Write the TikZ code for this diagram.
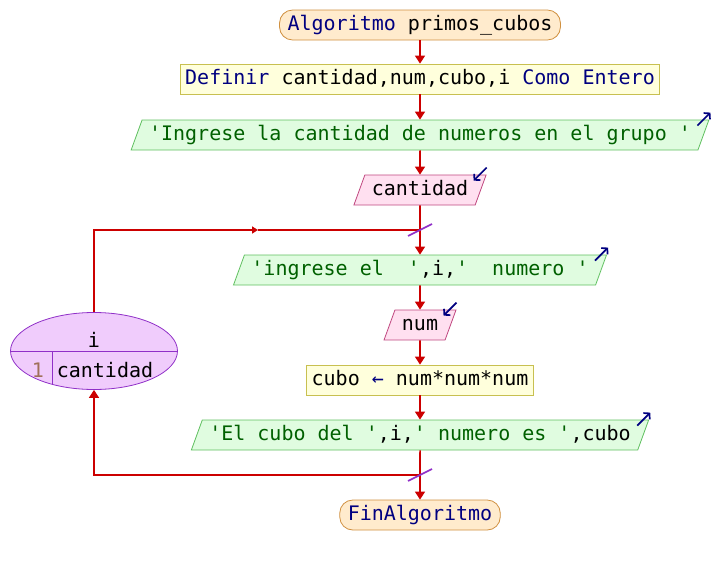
\documentclass[tikz,border=0pt]{standalone}
\usepackage{fontspec}
\setmonofont{DejaVu Sans Mono}
\usepackage{tikz}
\usetikzlibrary{arrows.meta, shapes.geometric, calc}

\definecolor{flowred}{HTML}{CC0000}
\definecolor{kwblue}{HTML}{000080}
\definecolor{strgreen}{HTML}{006000}
\definecolor{numbrown}{HTML}{A0705A}
\definecolor{loopedge}{HTML}{9030C8}
\definecolor{loopfill}{HTML}{F0CCFC}
\definecolor{termedge}{HTML}{D09040}
\definecolor{termfill}{HTML}{FFEBCD}
\definecolor{procedge}{HTML}{C8C050}
\definecolor{procfill}{HTML}{FFFFDC}
\definecolor{outedge}{HTML}{60C060}
\definecolor{outfill}{HTML}{E0FCE0}
\definecolor{inedge}{HTML}{C04880}
\definecolor{infill}{HTML}{FFE0F0}

\newcommand{\kwd}[1]{\textcolor{kwblue}{#1}}
\newcommand{\strg}[1]{\textcolor{strgreen}{#1}}

\tikzset{
	terminal/.style={draw=termedge, fill=termfill, line width=0.8pt, rounded corners=13pt, minimum height=30pt, inner xsep=8pt, inner ysep=2pt, text height=15pt, text depth=5pt},
	procbox/.style={draw=procedge, fill=procfill, line width=0.8pt, minimum height=30pt, inner xsep=5pt, inner ysep=2pt, text height=15pt, text depth=5pt},
	iobox/.style={trapezium, trapezium left angle=70, trapezium right angle=110, line width=0.8pt, inner xsep=7pt, inner ysep=5pt, text height=15pt, text depth=5pt},
	outbox/.style={iobox, draw=outedge, fill=outfill},
	inbox/.style={iobox, draw=inedge, fill=infill},
	flowline/.style={draw=flowred, line width=1.6pt},
	flow/.style={flowline, -{Triangle[length=8pt,width=10pt]}},
	loopflow/.style={flowline, -{Triangle[length=6pt,width=7pt]}},
	iomark/.style={draw=kwblue, line width=1.7pt, -{Straight Barb[length=4pt,width=9pt]}},
	joinmark/.style={draw=loopedge, line width=1.6pt},
}

\begin{document}
\begin{tikzpicture}[x=1pt, y=-1pt, font=\fontsize{20}{24}\selectfont\ttfamily]
	\useasboundingbox (0,0) rectangle (712,565);

	% main column
	\node[terminal] (start) at (420,25) {\kwd{Algoritmo} primos\_cubos};
	\node[procbox] (define) at (420,79) {\kwd{Definir} cantidad,num,cubo,i \kwd{Como Entero}};
	\node[outbox] (askcount) at (420,135) {\strg{'Ingrese la cantidad de numeros en el grupo '}};
	\node[inbox] (readcount) at (420,190) {cantidad};
	\coordinate (j1) at (420,230);
	\node[outbox] (asknum) at (420,270) {\strg{'ingrese el~~'},i,\strg{'~~numero '}};
	\node[inbox] (readnum) at (420,325) {num};
	\node[procbox] (cube) at (420,380) {cubo \kwd{←} num*num*num};
	\node[outbox] (showcube) at (420,435) {\strg{'El cubo del '},i,\strg{' numero es '},cubo};
	\coordinate (j2) at (420,475);
	\node[terminal] (finish) at (420,515) {\kwd{FinAlgoritmo}};

	% for loop
	\node[ellipse, draw=loopedge, fill=loopfill, line width=0.8pt, minimum width=167pt, minimum height=77pt] (loopfor) at (94,351) {};
	\draw[loopedge, line width=0.8pt] (loopfor.west) -- (loopfor.east);
	\draw[loopedge, line width=0.8pt] (52,351) -- (52,385);
	\node[anchor=base] (loopvar) at (94,347) {i};
	\node[anchor=base, text=numbrown] (loopstep) at (38,377) {1};
	\node[anchor=base] (loopend) at (105,377) {cantidad};

	\draw[flow] (start) -- (define);
	\draw[flow] (define) -- (askcount);
	\draw[flow] (askcount) -- (readcount);
	\draw[flow] (readcount) -- (asknum);
	\draw[flow] (asknum) -- (readnum);
	\draw[flow] (readnum) -- (cube);
	\draw[flow] (cube) -- (showcube);
	\draw[flow] (showcube) -- (finish);

	\coordinate (loopmark) at (258,230);
	\draw[loopflow] (loopfor.north) |- (loopmark);
	\draw[flowline] (loopmark) -- (j1);
	\draw[flow] (j2) -| (loopfor.south);

	\draw[joinmark] ($(j1)+(-12,6)$) -- ($(j1)+(12,-6)$);
	\draw[joinmark] ($(j2)+(-12,6)$) -- ($(j2)+(12,-6)$);

	% input / output marks
	\foreach \io in {askcount, asknum, showcube}
		\draw[iomark] ($(\io.top right corner)+(-12,6)$) -- ++(13,-13);
	\foreach \io in {readcount, readnum}
		\draw[iomark] ($(\io.top right corner)+(0,-7)$) -- ++(-13,13);
\end{tikzpicture}
\end{document}
